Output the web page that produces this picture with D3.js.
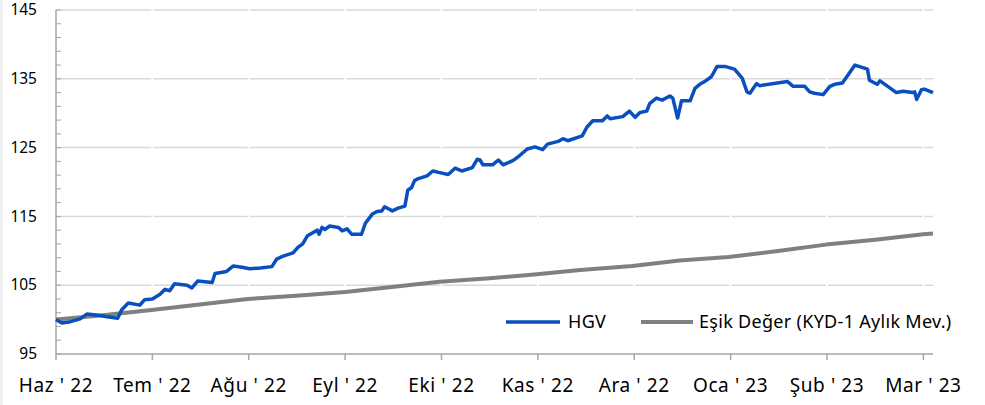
<!DOCTYPE html>
<html>
<head>
<meta charset="utf-8">
<script src="https://cdn.jsdelivr.net/npm/d3@7"></script>
<style>
  body { margin: 0; background: #fff; }
  svg { display: block; font-family: "Noto Sans", sans-serif; }
</style>
</head>
<body>
<svg id="chart" width="985" height="405"></svg>
<script>
// month labels, one per tick (x positions are months since Haz '22)
const monthLabels = ["Haz ' 22", "Tem ' 22", "Ağu ' 22", "Eyl ' 22", "Eki ' 22", "Kas ' 22",
                     "Ara ' 22", "Oca ' 23", "Şub ' 23", "Mar ' 23"];
const yTicks = [95, 105, 115, 125, 135, 145];

// HGV: [month position, value]
const hgv = [
  [0, 100.0], [0.06, 99.5], [0.15, 99.7], [0.25, 100.1], [0.32, 100.8], [0.46, 100.6],
  [0.53, 100.4], [0.64, 100.2], [0.68, 101.4], [0.75, 102.4], [0.87, 102.1], [0.92, 102.9],
  [1.0, 103.0], [1.08, 103.7], [1.13, 104.4], [1.18, 104.2], [1.23, 105.2], [1.36, 105.0],
  [1.41, 104.6], [1.47, 105.6], [1.62, 105.4], [1.65, 106.7], [1.77, 107.0], [1.84, 107.8],
  [1.93, 107.6], [2.01, 107.4], [2.12, 107.5], [2.24, 107.7], [2.29, 108.8], [2.35, 109.2],
  [2.46, 109.7], [2.51, 110.5], [2.56, 111.0], [2.61, 112.2], [2.71, 113.0], [2.73, 112.4],
  [2.76, 113.4], [2.79, 113.1], [2.84, 113.6], [2.93, 113.4], [2.97, 112.9], [3.02, 113.2],
  [3.07, 112.4], [3.17, 112.4], [3.21, 114.0], [3.28, 115.3], [3.33, 115.7], [3.38, 115.8],
  [3.41, 116.4], [3.49, 115.8], [3.55, 116.2], [3.62, 116.5], [3.65, 118.8], [3.69, 119.2],
  [3.72, 120.2], [3.76, 120.5], [3.85, 120.9], [3.91, 121.6], [3.97, 121.4], [4.07, 121.1],
  [4.14, 122.0], [4.21, 121.6], [4.32, 122.1], [4.37, 123.3], [4.40, 123.2], [4.43, 122.5],
  [4.53, 122.5], [4.59, 123.2], [4.64, 122.5], [4.74, 123.1], [4.79, 123.6], [4.89, 124.8],
  [4.97, 125.1], [5.05, 124.7], [5.10, 125.5], [5.21, 125.9], [5.26, 126.3], [5.31, 126.0],
  [5.46, 126.7], [5.51, 128.0], [5.57, 128.9], [5.67, 128.9], [5.72, 129.6], [5.75, 129.2],
  [5.88, 129.5], [5.95, 130.3], [6.01, 129.4], [6.06, 130.1], [6.13, 130.3], [6.16, 131.4],
  [6.23, 132.2], [6.29, 131.9], [6.37, 132.5], [6.40, 132.2], [6.45, 129.3], [6.49, 131.8],
  [6.58, 131.8], [6.63, 133.6], [6.68, 134.2], [6.73, 134.6], [6.80, 135.3], [6.86, 136.8],
  [6.94, 136.8], [7.04, 136.4], [7.12, 135.1], [7.17, 133.1], [7.20, 132.9], [7.27, 134.3],
  [7.30, 134.0], [7.59, 134.6], [7.65, 133.9], [7.77, 133.9], [7.82, 133.1], [7.87, 132.9],
  [7.96, 132.7], [8.03, 133.9], [8.08, 134.2], [8.16, 134.4], [8.22, 135.6], [8.29, 137.0],
  [8.42, 136.4], [8.44, 134.8], [8.52, 134.2], [8.55, 134.7], [8.63, 133.9], [8.72, 133.0],
  [8.79, 133.2], [8.89, 133.0], [8.91, 133.1], [8.93, 132.0], [8.98, 133.4], [9.01, 133.5],
  [9.10, 133.0]
];

// Eşik Değer (KYD-1 aylık mev.)
const esik = [
  [0, 100.0], [0.46, 100.6], [0.99, 101.4], [1.49, 102.2], [1.99, 103.0], [2.53, 103.5],
  [3.0, 104.0], [3.46, 104.7], [3.98, 105.5], [4.5, 106.0], [4.99, 106.6], [5.44, 107.2],
  [5.98, 107.8], [6.47, 108.6], [6.98, 109.1], [7.51, 110.0], [7.99, 110.9], [8.5, 111.6],
  [9.0, 112.4], [9.10, 112.5]
];

const svg = d3.select("#chart");
const plotLeft = 56, plotRight = 933, plotTop = 10, plotBottom = 354;

const x = d3.scaleLinear().domain([0, 9.1]).range([plotLeft, plotRight]);
const y = d3.scaleLinear().domain([95, 145]).range([plotBottom, plotTop]);

// thin grey strip on the left edge
svg.append("rect").attr("x", 0).attr("y", 0).attr("width", 3).attr("height", 405).attr("fill", "#efefef");

// horizontal gridlines
svg.append("g")
  .selectAll("line")
  .data(yTicks.slice(1))
  .join("line")
  .attr("x1", plotLeft).attr("x2", plotRight)
  .attr("y1", d => y(d)).attr("y2", d => y(d))
  .attr("stroke", "#d9d9d9").attr("stroke-width", 1.5);

// white vertical gaps at month ticks
svg.append("g")
  .selectAll("line")
  .data(d3.range(1, monthLabels.length))
  .join("line")
  .attr("x1", d => x(d)).attr("x2", d => x(d))
  .attr("y1", plotTop - 2).attr("y2", plotBottom - 2)
  .attr("stroke", "#fff").attr("stroke-width", 2);

// y axis
const yAxis = svg.append("g").attr("transform", `translate(${plotLeft},0)`);
yAxis.append("line").attr("x1", 0).attr("x2", 0).attr("y1", plotTop).attr("y2", plotBottom)
  .attr("stroke", "#a6a6a6").attr("stroke-width", 1.5);
yAxis.selectAll("line.minor")
  .data(d3.range(95, 145.1, 2))
  .join("line").attr("class", "minor")
  .attr("x1", 0).attr("x2", 5)
  .attr("y1", d => y(d)).attr("y2", d => y(d))
  .attr("stroke", "#a6a6a6").attr("stroke-width", 1);
yAxis.selectAll("text")
  .data(yTicks)
  .join("text")
  .attr("x", -19).attr("y", d => y(d)).attr("dy", "0.34em")
  .attr("text-anchor", "end")
  .attr("font-size", 15.5).attr("fill", "#000")
  .text(d => d);

// x axis
const xAxis = svg.append("g");
xAxis.append("line").attr("x1", plotLeft).attr("x2", plotRight).attr("y1", plotBottom).attr("y2", plotBottom)
  .attr("stroke", "#a6a6a6").attr("stroke-width", 1.5);
xAxis.selectAll("line.tick")
  .data(d3.range(monthLabels.length))
  .join("line").attr("class", "tick")
  .attr("x1", d => x(d)).attr("x2", d => x(d))
  .attr("y1", plotBottom).attr("y2", plotBottom + 6)
  .attr("stroke", "#a6a6a6").attr("stroke-width", 1.5);
xAxis.selectAll("text")
  .data(monthLabels)
  .join("text")
  .attr("x", (d, i) => x(i)).attr("y", 392)
  .attr("text-anchor", "middle")
  .attr("font-size", 19).attr("letter-spacing", 0.6).attr("fill", "#000")
  .text(d => d);

const line = d3.line().x(d => x(d[0])).y(d => y(d[1]));

svg.append("path").datum(esik)
  .attr("d", line).attr("fill", "none")
  .attr("stroke", "#808080").attr("stroke-width", 4).attr("stroke-linejoin", "round");

svg.append("path").datum(hgv)
  .attr("d", line).attr("fill", "none")
  .attr("stroke", "#0a4fbf").attr("stroke-width", 3.5).attr("stroke-linejoin", "round");

// legend
const legend = svg.append("g");
const legendItems = [
  { label: "HGV", color: "#0a4fbf", width: 3.5, x0: 506, x1: 560, tx: 568 },
  { label: "Eşik Değer (KYD-1 Aylık Mev.)", color: "#808080", width: 4, x0: 641, x1: 693, tx: 699 }
];
legendItems.forEach(item => {
  legend.append("line")
    .attr("x1", item.x0).attr("x2", item.x1).attr("y1", 322).attr("y2", 322)
    .attr("stroke", item.color).attr("stroke-width", item.width);
  legend.append("text")
    .attr("x", item.tx).attr("y", 322).attr("dy", "0.35em")
    .attr("font-size", 18).attr("letter-spacing", 0.3).attr("fill", "#000")
    .text(item.label);
});
</script>
</body>
</html>
